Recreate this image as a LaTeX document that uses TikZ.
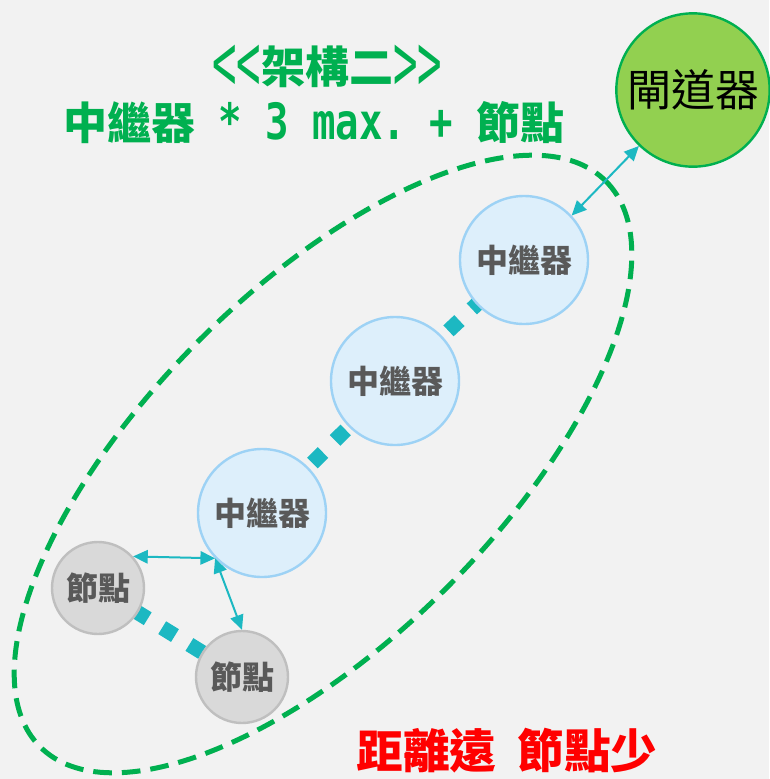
\documentclass[tikz,border=0pt]{standalone}
\usepackage{fontspec}
\setmainfont{Noto Sans CJK TC}
\setmonofont{DejaVu Sans Mono}
\usetikzlibrary{arrows.meta,backgrounds}
\definecolor{bgcol}{HTML}{F2F2F2}
\definecolor{titlegreen}{HTML}{00B050}
\definecolor{gwfill}{HTML}{92D050}
\definecolor{repfill}{HTML}{DDEFFB}
\definecolor{repline}{HTML}{9DD2F5}
\definecolor{leaffill}{HTML}{D9D9D9}
\definecolor{leafline}{HTML}{BFBFBF}
\definecolor{linkteal}{HTML}{1CB8C2}
\definecolor{textgray}{HTML}{595959}
\newcommand{\tallang}[1]{\raisebox{-0.32em}{\mdseries\scalebox{1}[2]{#1}}}
\begin{document}
\begin{tikzpicture}[x=0.75pt,y=-0.75pt,
    relay/.style={circle,draw=repline,line width=1.8pt,fill=repfill,minimum size=96pt,
        inner sep=0pt,text=textgray,font=\bfseries\fontsize{24}{24}\selectfont},
    leaf/.style={circle,draw=leafline,line width=1.8pt,fill=leaffill,minimum size=69pt,
        inner sep=0pt,text=textgray,font=\bfseries\fontsize{24}{24}\selectfont},
    gateway/.style={circle,draw=titlegreen,line width=1.8pt,fill=gwfill,minimum size=115pt,
        inner sep=0pt,text=black,font=\fontsize{33}{33}\selectfont},
    headline/.style={text=titlegreen,inner sep=0pt,anchor=base,
        font=\bfseries\fontsize{33}{33}\selectfont},
    link/.style={draw=linkteal,line width=1.5pt,>={Triangle[length=11pt,width=10pt]},<->},
    hop/.style={draw=linkteal,line width=11.25pt,dash pattern=on 11.25pt off 12.75pt}]
    \useasboundingbox (0,0) rectangle (769,779);
    %% Titles
    \node[headline] (title) at (327,83)
        {\tallang{<}\tallang{<}架構二\tallang{>}\tallang{>}};
    \node[headline] (subtitle) at (314,139)
        {中繼器\scalebox{0.78}[1]{\texttt{\fontsize{37.5}{37.5}\selectfont{} * 3 max. + }}節點};
    \node[text=red,inner sep=0pt,font=\bfseries\fontsize{35}{35}\selectfont] (note)
        at (507,751) {距離遠\hspace{0.45em}節點少};
    %% Gateway and relays
    \node[gateway] (gw) at (693,90) {閘道器};
    \node[relay] (relayA) at (524,260) {中繼器};
    \node[relay] (relayB) at (395,381) {中繼器};
    \node[relay] (relayC) at (262,513) {中繼器};
    %% End nodes
    \node[leaf] (leafA) at (98,588) {節點};
    \node[leaf] (leafB) at (242,677) {節點};
    %% Range
    \draw[titlegreen,line width=3.75pt,dash pattern=on 14pt off 7.5pt,
        rotate around={45:(323,464)}] (323,464) ellipse [x radius=400,y radius=175];
    %% Links
    \draw[link] (gw.226) -- (relayA.43);
    \draw[link] (leafA.42) -- (relayC.224);
    \draw[link] (relayC.224) -- (leafB.90);
    \begin{scope}[on background layer]
        \fill[bgcol] (0,0) rectangle (769,779);
        \draw[hop,dash phase=5.6pt] (relayA.center) -- (relayB.center);
        \draw[hop,dash phase=19.9pt] (relayB.center) -- (relayC.center);
        \draw[hop,dash phase=15.4pt] (leafA.center) -- (leafB.center);
    \end{scope}
\end{tikzpicture}
\end{document}
